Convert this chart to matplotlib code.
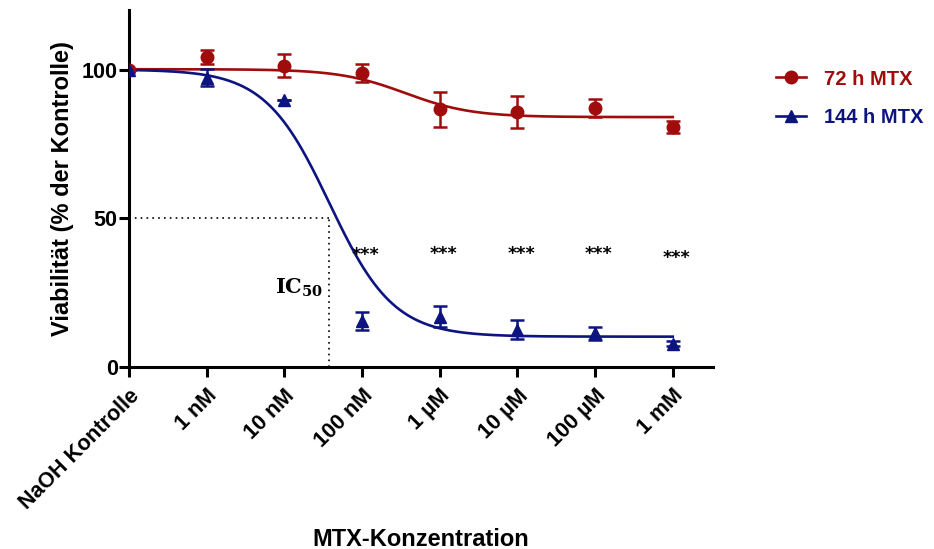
import matplotlib.pyplot as plt
import numpy as np

plt.rcParams['font.family'] = ['Liberation Sans', 'DejaVu Sans']
plt.rcParams['mathtext.fontset'] = 'dejavuserif'

# categories on the x axis
labels = ["NaOH Kontrolle", "1 nM", "10 nM", "100 nM", "1 µM", "10 µM", "100 µM", "1 mM"]

# 72 h MTX: means and SD
mtx72 = [100, 104.3, 101.3, 98.9, 86.6, 85.6, 87.2, 80.8]
err72 = [0, 2.3, 3.9, 3.0, 5.8, 5.4, 3.0, 2.0]

# 144 h MTX
mtx144 = [100, 97.3, 89.7, 15.6, 16.9, 12.6, 11.4, 7.8]
err144 = [0, 3.0, 0, 3.0, 3.6, 3.2, 2.2, 0.8]

# fitted sigmoid parameters (top, bottom, midpoint, hill slope)
fit72 = [100.1, 84.0, 3.56, 1.02]
fit144 = [100.0, 10.2, 2.58, 1.05]

ic50_x = 2.58
stars_x = [3, 4, 5, 6, 7]
stars_y = [38.5, 38.7, 38.7, 38.7, 37.6]

red = "#A00C0C"
blue = "#0D1480"

x = np.arange(len(labels))


def sigmoid(xx, top, bottom, mid, hill):
    return bottom + (top - bottom) / (1 + 10 ** ((xx - mid) * hill))


fig, ax = plt.subplots(figsize=(9.34, 5.49), dpi=100)
fig.subplots_adjust(left=0.138, right=0.138 + 7.52 * 77.7 / 934, bottom=1 - 367 / 549, top=1 - 10 / 549)

xs = np.linspace(0, 7, 300)
ax.plot(xs, sigmoid(xs, *fit72), color=red, lw=1.9, zorder=3)
ax.plot(xs, sigmoid(xs, *fit144), color=blue, lw=1.9, zorder=3)

ax.errorbar(x, mtx72, yerr=err72, fmt="o", color=red, ms=9, capsize=5, elinewidth=1.8, capthick=1.8, zorder=4)
ax.errorbar(x, mtx144, yerr=err144, fmt="^", color=blue, ms=9, capsize=5, elinewidth=1.8, capthick=1.8, zorder=4)

# IC50 guide lines
ax.plot([0, ic50_x], [50, 50], color="black", ls=(0, (1, 2.5)), lw=1.2)
ax.plot([ic50_x, ic50_x], [0, 50], color="black", ls=(0, (1, 2.5)), lw=1.2)
ax.text(ic50_x - 0.08, 26.5, r"$\mathbf{IC}_{\mathbf{50}}$", ha="right", va="center", fontsize=15)

# significance stars, a bit lower because asterisks sit high in the text box
for sx, sy in zip(stars_x, stars_y):
    ax.text(sx + 0.05, sy - 0.8, "***", ha="center", va="center", fontsize=12.5, fontweight="bold",
            family="DejaVu Sans")

ax.set_xlim(0, 7.52)
ax.set_ylim(0, 120)
ax.set_yticks([0, 50, 100])
ax.set_xticks(x)
ax.set_xticklabels(labels, rotation=45, ha="right", rotation_mode="anchor", fontsize=15.5, fontweight="bold")
for t in ax.get_yticklabels():
    t.set_fontsize(15.5)
    t.set_fontweight("bold")

for s in ["top", "right"]:
    ax.spines[s].set_visible(False)
for s in ["left", "bottom"]:
    ax.spines[s].set_linewidth(2.2)
ax.tick_params(width=2.2, length=7, direction="out")
ax.tick_params(axis="y", pad=1)
ax.tick_params(axis="x", pad=6)

ax.set_ylabel("Viabilität (% der Kontrolle)", fontsize=17, fontweight="bold")
ax.yaxis.set_label_coords(-0.094, 0.5)
ax.set_xlabel("MTX-Konzentration", fontsize=17, fontweight="bold")
ax.xaxis.set_label_coords(0.5, -(539 - 367) / 357, transform=ax.transAxes)
ax.xaxis.label.set_va("center")

# legend with line+marker handles
h1, = ax.plot([], [], "-o", color=red, ms=9, lw=1.9, label="72 h MTX")
h2, = ax.plot([], [], "-^", color=blue, ms=9, lw=1.9, label="144 h MTX")
leg = fig.legend(handles=[h1, h2], loc="upper left", bbox_to_anchor=(0.822, 0.888), frameon=False,
                 prop={"size": 14.5, "weight": "bold"}, handlelength=1.5, handletextpad=0.9,
                 labelspacing=0.95, borderaxespad=0)
for txt, c in zip(leg.get_texts(), [red, blue]):
    txt.set_color(c)

plt.savefig("out.png", dpi=100)
